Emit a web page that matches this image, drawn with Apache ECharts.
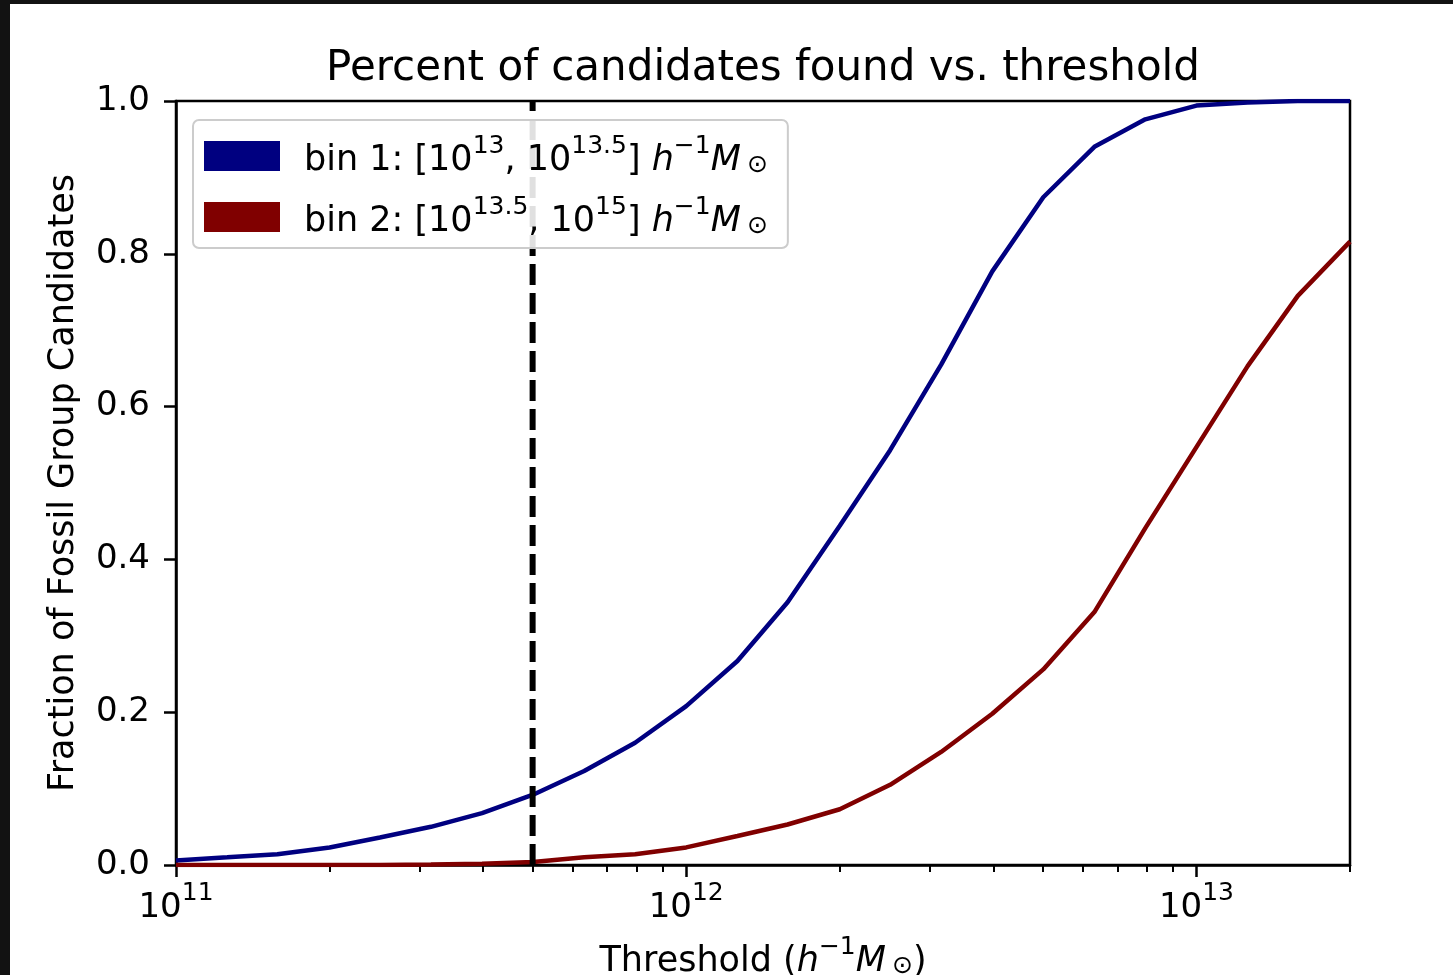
<!DOCTYPE html>
<html>
<head>
<meta charset="utf-8">
<script src="https://cdn.jsdelivr.net/npm/echarts@6/dist/echarts.min.js"></script>
<style>
  html, body { margin: 0; padding: 0; background: #ffffff; }
  #chart { width: 1453px; height: 975px; }
</style>
</head>
<body>
<div id="chart"></div>
<script>
// Mass thresholds (h^-1 M_sun), 0.1 dex steps
const thresholds = [
  1.0e11, 1.26e11, 1.58e11, 2.0e11, 2.51e11, 3.16e11, 3.98e11, 5.01e11, 6.31e11, 7.94e11,
  1.0e12, 1.26e12, 1.58e12, 2.0e12, 2.51e12, 3.16e12, 3.98e12, 5.01e12, 6.31e12, 7.94e12,
  1.0e13, 1.26e13, 1.58e13, 2.0e13
];
// Fraction of fossil group candidates recovered, per halo-mass bin
const bin1Fraction = [
  0.006, 0.010, 0.014, 0.023, 0.036, 0.050, 0.068, 0.092, 0.123, 0.160,
  0.208, 0.267, 0.344, 0.444, 0.543, 0.655, 0.777, 0.874, 0.940, 0.976,
  0.994, 0.998, 1.000, 1.000
];
const bin2Fraction = [
  0.000, 0.000, 0.000, 0.000, 0.000, 0.0005, 0.0015, 0.004, 0.010, 0.014,
  0.023, 0.038, 0.053, 0.073, 0.105, 0.148, 0.198, 0.256, 0.331, 0.441,
  0.547, 0.653, 0.745, 0.816
];
// Adopted threshold cut
const cutThreshold = 5e11;

const seriesNames = ['bin 1', 'bin 2'];
const legendLabels = [
  '{tf|bin 1: [10}{s|13}{t|, 10}{s|13.5}{t|] }{i|h}{s|\u22121}{i|M}{u|\u2299}',
  '{tf|bin 2: [10}{s|13.5}{t|, 10}{s|15}{t|] }{i|h}{s|\u22121}{i|M}{u|\u2299}'
];
const xMajorTicks = [1e11, 1e12, 1e13];
const xMajorExponents = ['11', '12', '13'];
const xMinorTicks = [
  2e11, 3e11, 4e11, 5e11, 6e11, 7e11, 8e11, 9e11,
  2e12, 3e12, 4e12, 5e12, 6e12, 7e12, 8e12, 9e12,
  2e13
];
const xName = '{t|Threshold (}{i|h}{s|\u22121}{i|M}{u|\u2299}{t|)}';
const yName = 'Fraction of Fossil Group Candidates';
const titleText = 'Percent of candidates found vs. threshold';

const FONT = 'DejaVu Sans';
const LH = 44;
const rich = {
  t:  { fontFamily: FONT, fontSize: 35, lineHeight: LH, verticalAlign: 'bottom', color: '#000' },
  tf: { fontFamily: FONT, fontSize: 35, lineHeight: LH, verticalAlign: 'bottom', color: '#000', padding: [0, 0, 0, 19] },
  b:  { fontFamily: FONT, fontSize: 34, lineHeight: LH, verticalAlign: 'bottom', color: '#000' },
  i:  { fontFamily: FONT, fontSize: 35, fontStyle: 'italic', lineHeight: LH, verticalAlign: 'bottom', color: '#000' },
  s:  { fontFamily: FONT, fontSize: 25, lineHeight: 27, verticalAlign: 'top', color: '#000' },
  u:  { fontFamily: FONT, fontSize: 25, lineHeight: 26, verticalAlign: 'bottom', color: '#000', padding: [0, 0, 0, 6] }
};

function majorLabel(v) {
  let best = 0, bestD = Infinity;
  xMajorTicks.forEach((t, k) => {
    const d = Math.abs(Math.log10(t) - Math.log10(v));
    if (d < bestD) { bestD = d; best = k; }
  });
  return '{b|10}{s|' + xMajorExponents[best] + '}';
}

const gridRect = { left: 176, top: 101, right: 103, bottom: 110, outerBoundsMode: 'none', containLabel: false };

const chart = echarts.init(document.getElementById('chart'), null, { renderer: 'canvas' });
chart.setOption({
  animation: false,
  backgroundColor: '#ffffff',
  graphic: [
    { type: 'rect', z: 100, shape: { x: 0, y: 0, width: 10, height: 975 }, style: { fill: '#121212' } },
    { type: 'rect', z: 100, shape: { x: 0, y: 0, width: 1453, height: 4 }, style: { fill: '#121212' } }
  ],
  title: {
    text: titleText,
    left: 763, top: 48, textAlign: 'center', padding: 0,
    textStyle: { fontFamily: FONT, fontSize: 42, fontWeight: 'normal', color: '#000', lineHeight: 42 }
  },
  legend: {
    data: seriesNames,
    orient: 'vertical',
    left: 193, top: 120,
    itemWidth: 76, itemHeight: 30, itemGap: 17,
    padding: [14, 20, 9, 11],
    icon: 'rect',
    selectedMode: false,
    backgroundColor: 'rgba(255,255,255,0.88)',
    borderColor: '#cccccc', borderWidth: 2, borderRadius: 6,
    formatter: name => legendLabels[seriesNames.indexOf(name)],
    textStyle: { fontFamily: FONT, fontSize: 35, color: '#000', rich: rich }
  },
  grid: [
    Object.assign({ show: true, borderColor: '#000', borderWidth: 2.5, backgroundColor: 'transparent' }, gridRect),
    Object.assign({ show: false }, gridRect)
  ],
  xAxis: [
    {
      type: 'log', logBase: 10, min: 1e11, max: 2e13, gridIndex: 0, position: 'bottom',
      axisLine: { show: true, onZero: false, lineStyle: { color: '#000', width: 2.5 } },
      axisTick: { show: true, length: 12, lineStyle: { color: '#000', width: 2.5 }, customValues: xMajorTicks },
      axisLabel: { customValues: xMajorTicks, formatter: majorLabel, rich: rich, margin: 16 },
      minorTick: { show: false },
      splitLine: { show: false },
      name: xName, nameLocation: 'middle', nameGap: 70,
      nameTextStyle: { fontFamily: FONT, fontSize: 35, color: '#000', rich: rich }
    },
    {
      type: 'log', logBase: 10, min: 1e11, max: 2e13, gridIndex: 1, position: 'bottom',
      axisLine: { show: false },
      axisTick: { show: true, length: 7, lineStyle: { color: '#000', width: 2 }, customValues: xMinorTicks },
      axisLabel: { show: false },
      splitLine: { show: false }
    }
  ],
  yAxis: [
    {
      type: 'value', min: 0, max: 1, interval: 0.2, gridIndex: 0,
      axisLine: { show: true, lineStyle: { color: '#000', width: 2.5 } },
      axisTick: { show: true, length: 12, lineStyle: { color: '#000', width: 2.5 } },
      axisLabel: { formatter: v => v.toFixed(1), fontFamily: FONT, fontSize: 34, color: '#000', margin: 26 },
      splitLine: { show: false },
      name: yName, nameLocation: 'middle', nameGap: 95,
      nameTextStyle: { fontFamily: FONT, fontSize: 35, color: '#000' }
    },
    {
      type: 'value', min: 0, max: 1, gridIndex: 1, show: false
    }
  ],
  series: [
    {
      name: seriesNames[0], type: 'line', xAxisIndex: 0, yAxisIndex: 0,
      data: thresholds.map((x, k) => [x, bin1Fraction[k]]),
      symbol: 'none', smooth: false,
      lineStyle: { color: '#000080', width: 4.5 }, itemStyle: { color: '#000080' }
    },
    {
      name: seriesNames[1], type: 'line', xAxisIndex: 0, yAxisIndex: 0,
      data: thresholds.map((x, k) => [x, bin2Fraction[k]]),
      symbol: 'none', smooth: false,
      lineStyle: { color: '#800000', width: 4.5 }, itemStyle: { color: '#800000' }
    },
    {
      name: 'cut', type: 'line', xAxisIndex: 0, yAxisIndex: 0,
      data: [[cutThreshold, 0], [cutThreshold, 1]],
      symbol: 'none',
      lineStyle: { color: '#000', width: 6, type: [21, 8] }, itemStyle: { color: '#000' }
    }
  ]
});
</script>
</body>
</html>
